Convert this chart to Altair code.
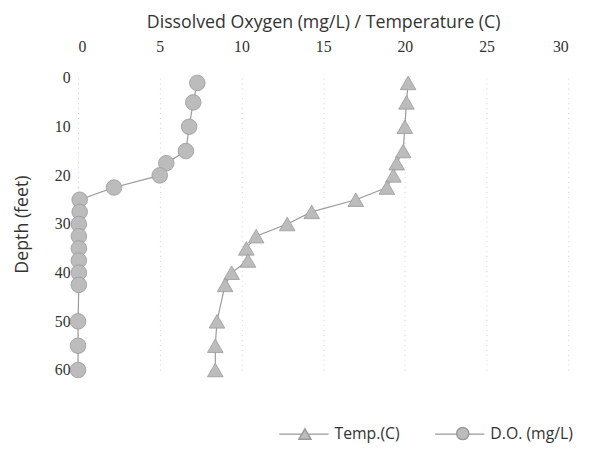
import altair as alt
import pandas as pd

depth_ft = [1, 5, 10, 15, 17.5, 20, 22.5, 25, 27.5, 30, 32.5, 35, 37.5, 40, 42.5, 50, 55, 60]
temp_c = [20.2, 20.1, 20.0, 19.9, 19.5, 19.3, 18.9, 17.0, 14.3, 12.8, 10.9, 10.3, 10.4, 9.4, 9.0, 8.5, 8.4, 8.4]
do_mgl = [7.3, 7.05, 6.8, 6.6, 5.4, 5.0, 2.2, 0.1, 0.1, 0.05, 0.05, 0.05, 0.05, 0.05, 0.05, 0.0, 0.0, 0.0]
series_names = ["Temp.(C)", "D.O. (mg/L)"]
marker_keys = ["T", "D"]
x_ticks = [0, 5, 10, 15, 20, 25, 30]
y_ticks = [0, 10, 20, 30, 40, 50, 60]

rows = []
for d, t in zip(depth_ft, temp_c):
    rows.append({"series": series_names[0], "marker": marker_keys[0], "depth": d, "value": t})
for d, o in zip(depth_ft, do_mgl):
    rows.append({"series": series_names[1], "marker": marker_keys[1], "depth": d, "value": o})
df = pd.DataFrame(rows)

MARK_FILL = "#bcbcbc"
MARK_STROKE = "#9a9a9a"
LINE_COLOR = "#9a9a9a"

x_enc = alt.X(
    "value:Q",
    scale=alt.Scale(domain=[0, 30], nice=False, zero=False),
    axis=alt.Axis(
        orient="top",
        values=x_ticks,
        title="Dissolved Oxygen (mg/L) / Temperature (C)",
        titleFont="Open Sans",
        titleFontSize=18,
        titleFontWeight="normal",
        titleColor="#333333",
        titlePadding=7,
        labelFont="Liberation Serif",
        labelFontSize=16,
        labelColor="#333333",
        labelPadding=24,
        ticks=False,
        tickSize=0,
        domain=False,
        grid=True,
        gridColor="#d0d0d0",
        gridDash=[1, 4],
        gridWidth=1,
    ),
)
y_enc = alt.Y(
    "depth:Q",
    scale=alt.Scale(domain=[0, 60], reverse=True, nice=False),
    axis=alt.Axis(
        values=y_ticks,
        title="Depth (feet)",
        titleFont="Open Sans",
        titleFontSize=18,
        titleFontWeight="normal",
        titleColor="#333333",
        titlePadding=23,
        labelFont="Liberation Serif",
        labelFontSize=16,
        labelColor="#333333",
        labelPadding=8,
        ticks=False,
        tickSize=0,
        domain=False,
        grid=False,
    ),
)

base = alt.Chart(df)

common_legend = dict(
    title=None,
    orient="none",
    direction="horizontal",
    padding=0,
    labelFont="Open Sans",
    labelFontSize=16,
    labelColor="#333333",
)

lines = base.mark_line(strokeWidth=1.2).encode(
    x=x_enc,
    y=y_enc,
    order="depth:Q",
    color=alt.Color(
        "series:N",
        scale=alt.Scale(domain=series_names, range=[LINE_COLOR, LINE_COLOR]),
        legend=alt.Legend(
            legendX=203,
            legendY=335,
            symbolType="stroke",
            symbolSize=2500,
            symbolStrokeWidth=1.2,
            symbolStrokeColor=LINE_COLOR,
            labelOffset=5,
            columnPadding=32,
            **common_legend,
        ),
    ),
)

label_expr = (
    f"datum.label == '{marker_keys[0]}' ? '{series_names[0]}' : '{series_names[1]}'"
)

points = base.mark_point(
    filled=True, fill=MARK_FILL, stroke=MARK_STROKE, strokeWidth=0.8, opacity=1, size=250
).encode(
    x=x_enc,
    y=y_enc,
    shape=alt.Shape(
        "marker:N",
        scale=alt.Scale(domain=marker_keys, range=["triangle-up", "circle"]),
        legend=alt.Legend(
            legendX=222,
            legendY=352,
            symbolSize=150,
            symbolFillColor=MARK_FILL,
            symbolOpacity=1,
            labelOffset=24,
            labelOpacity=0,
            labelExpr=label_expr,
            columnPadding=51,
            **common_legend,
        ),
    ),
)

chart = (
    alt.layer(lines, points)
    .properties(
        width=497,
        height=296,
        padding={"left": 71, "top": 68, "right": 19, "bottom": 74},
        autosize=alt.AutoSizeParams(type="none"),
        background="white",
    )
    .configure_view(stroke=None)
)

chart.save("out.html", embed_options={"renderer": "svg", "actions": False})
